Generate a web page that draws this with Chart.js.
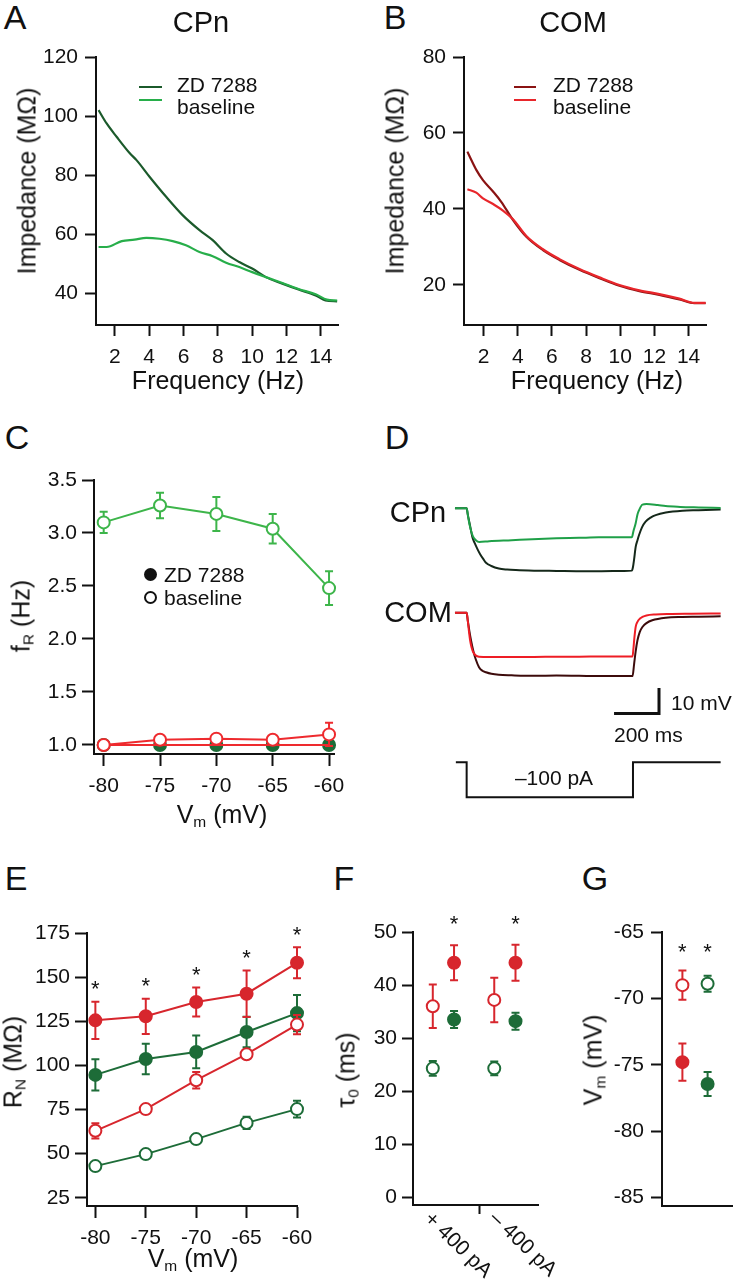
<!DOCTYPE html>
<html>
<head>
<meta charset="utf-8">
<script src="https://cdn.jsdelivr.net/npm/chart.js@4.4.1/dist/chart.umd.min.js"></script>
<style>
  html, body { margin: 0; padding: 0; background: #fff; }
  body { width: 733px; height: 1280px; position: relative; overflow: hidden;
         font-family: "Liberation Sans", Arial, sans-serif; color: #111; }
  canvas { position: absolute; }
  .t { position: absolute; white-space: nowrap; line-height: 1; }
  .t sub { font-size: 0.62em; vertical-align: -0.28em; line-height: 0; }
  .b { position: absolute; }
</style>
</head>
<body>
<script>
// ---- A: CPn impedance profile
const freqA_zd = [1.05, 1.52, 2.1, 2.87, 3.26, 4.03, 5.0, 5.96, 6.93, 7.7, 8.48, 9.25, 10.0, 10.8, 11.76, 12.7, 13.7, 14.27, 14.95];
const impA_zd = [102.0, 97.5, 93.0, 87.4, 85.1, 79.4, 72.6, 66.4, 61.4, 58.0, 53.5, 50.6, 48.4, 45.5, 43.3, 41.3, 39.3, 37.6, 37.3];
const freqA_base = [1.05, 1.52, 2.4, 3.14, 3.84, 4.6, 5.37, 6.14, 6.93, 7.7, 8.48, 9.25, 10.0, 10.8, 11.76, 12.7, 13.7, 14.35, 14.95];
const impA_base = [55.7, 55.7, 57.7, 58.2, 58.8, 58.5, 57.7, 56.3, 54.0, 52.6, 50.4, 48.9, 47.2, 45.5, 43.5, 41.5, 39.7, 37.9, 37.6];

// ---- B: COM impedance profile
const freqB_zd = [1.05, 1.28, 1.57, 1.96, 2.55, 3.03, 3.72, 4.5, 5.47, 6.44, 7.61, 8.78, 9.95, 11.12, 12.29, 13.46, 14.34, 15.0];
const impB_zd = [55.1, 52.9, 50.3, 47.6, 44.6, 41.9, 37.1, 32.7, 29.2, 26.6, 24.0, 21.8, 19.8, 18.4, 17.4, 16.2, 15.2, 15.2];
const freqB_base = [1.05, 1.57, 1.96, 2.55, 3.13, 3.72, 4.5, 5.47, 6.44, 7.61, 8.78, 9.95, 11.12, 12.29, 13.46, 14.34, 15.0];
const impB_base = [45.2, 44.3, 42.8, 41.3, 39.6, 37.3, 32.9, 29.4, 26.8, 24.2, 22.0, 20.0, 18.6, 17.6, 16.4, 15.3, 15.3];

// ---- C: resonance frequency vs Vm
const vmSteps = [-80, -75, -70, -65, -60];
const fR_cpnBase = [3.10, 3.26, 3.18, 3.04, 2.48];
const fR_cpnBaseErr = [0.10, 0.12, 0.16, 0.14, 0.16];
const fR_cpnZD = [1.0, 1.0, 1.0, 1.0, 1.0];
const fR_comBase = [1.0, 1.05, 1.06, 1.05, 1.10];
const fR_comBaseErr = [0, 0.02, 0.02, 0.02, 0.11];
const fR_comZD = [1.0, 1.0, 1.0, 1.0, 1.0];

// ---- D: example voltage responses (ms, mV relative to rest) and current step
const cpnBaseT = [-52, 0, 6, 12, 19, 28, 41, 56, 100, 200, 293, 400, 500, 588, 735, 742, 752, 760, 767, 782, 800, 850, 885, 950, 1032, 1130];
const cpnBaseV = [0, 0, -3, -6, -8.6, -11, -12.5, -13.2, -12.9, -12.5, -12.1, -11.8, -11.6, -11.4, -11.4, -9, -5.9, -2.5, -0.8, 1.4, 1.6, 1.2, 0.8, 0.5, 0.3, 0.1];
const cpnZdT = [-52, 0, 5, 12, 19, 26, 35, 47, 60, 75, 86, 110, 143, 180, 219, 300, 400, 500, 600, 700, 735, 740, 745, 752, 760, 767, 780, 796, 820, 841, 886, 960, 1032, 1130];
const cpnZdV = [0, 0, -2.5, -5.5, -8.6, -11.5, -13.5, -15.8, -18, -20, -21.3, -22.6, -23.6, -24.0, -24.2, -24.4, -24.5, -24.6, -24.6, -24.5, -24.4, -23, -20, -15.1, -12.5, -10.5, -7.5, -5.3, -3.6, -2.7, -1.7, -1.0, -0.8, -0.5];
const comBaseT = [-52, 0, 5, 10, 15, 22, 30, 40, 55, 100, 200, 300, 400, 500, 600, 700, 738, 742, 746, 752, 760, 770, 782, 800, 841, 900, 1000, 1130];
const comBaseV = [0, 0, -3, -7, -10.5, -13.5, -15.5, -16.6, -17.1, -17.2, -17.2, -17.2, -17.1, -17.1, -17.0, -17.0, -17.0, -14, -10, -5.5, -3.5, -2.3, -1.6, -1.0, -0.6, -0.4, -0.3, -0.2];
const comZdT = [-52, 0, 5, 12, 20, 30, 40, 55, 70, 86, 110, 143, 200, 300, 400, 500, 600, 700, 738, 745, 752, 760, 770, 782, 800, 826, 886, 960, 1032, 1130];
const comZdV = [0, 0, -3, -7, -11, -15, -18, -21.2, -22.6, -23.2, -23.8, -24.2, -24.4, -24.6, -24.5, -24.6, -24.7, -24.7, -24.7, -20, -15, -10.7, -7.5, -5.5, -4, -2.9, -1.9, -1.6, -1.5, -1.3];
const stepT = [-48, 0, 0, 740, 740, 1130];
const stepI = [0, 0, -100, -100, 0, 0];

// ---- E: input resistance vs Vm
const rn_comZD = [125.5, 127.8, 135.9, 140.6, 158.1];
const rn_comZDErr = [10.5, 10.0, 8.2, 13.2, 8.8];
const rn_cpnZD = [94.6, 103.6, 107.6, 118.9, 129.6];
const rn_cpnZDErr = [8.8, 8.7, 9.3, 8.7, 10.3];
const rn_comBase = [62.9, 75.2, 91.6, 106.3, 123.1];
const rn_comBaseErr = [4.3, 2.5, 4.7, 2.5, 5.5];
const rn_cpnBase = [42.9, 49.7, 58.2, 67.4, 75.2];
const rn_cpnBaseErr = [1.8, 1.8, 1.8, 3.5, 4.7];

// ---- F: membrane time constant
const stimLabels = ['+ 400 pA', '\u2013 400 pA'];
const tau_comBase = [36.0, 37.2];
const tau_comBaseErr = [4.1, 4.2];
const tau_comZD = [44.2, 44.2];
const tau_comZDErr = [3.3, 3.4];
const tau_cpnBase = [24.3, 24.3];
const tau_cpnBaseErr = [1.4, 1.3];
const tau_cpnZD = [33.5, 33.2];
const tau_cpnZDErr = [1.6, 1.6];

// ---- G: resting potential
const cellTypes = ['COM', 'CPn'];
const rest_base = [-69.0, -68.9];
const rest_baseErr = [1.1, 0.6];
const rest_zd = [-74.8, -76.45];
const rest_zdErr = [1.4, 0.9];

const RED = '#d7262d', GREEN = '#1d6c38';

Chart.defaults.font.family = '"Liberation Sans", Arial, sans-serif';
Chart.defaults.color = '#111';

// error bars drawn under each dataset's markers
const errorBars = {
  id: 'errorBars',
  beforeDatasetDraw(chart, args) {
    const ds = chart.data.datasets[args.index];
    if (!ds.errors) return;
    const y = chart.scales[args.meta.yAxisID];
    const ctx = chart.ctx;
    ctx.save();
    ctx.strokeStyle = ds.borderColor;
    ctx.lineWidth = 2;
    args.meta.data.forEach((pt, i) => {
      const e = ds.errors[i];
      if (!e) return;
      const v = ds.data[i].y;
      const top = y.getPixelForValue(v + e), bot = y.getPixelForValue(v - e);
      ctx.beginPath();
      ctx.moveTo(pt.x, top); ctx.lineTo(pt.x, bot);
      ctx.moveTo(pt.x - 4, top); ctx.lineTo(pt.x + 4, top);
      ctx.moveTo(pt.x - 4, bot); ctx.lineTo(pt.x + 4, bot);
      ctx.stroke();
    });
    ctx.restore();
  }
};

// significance asterisks above error bars
const stars = {
  id: 'stars',
  afterDatasetsDraw(chart, args, opts) {
    if (!opts || !opts.marks) return;
    const ctx = chart.ctx;
    const pos = opts.marks.map(m => {
      const ds = chart.data.datasets[m[0]];
      const p = ds.data[m[1]];
      return { x: chart.scales.x.getPixelForValue(p.x),
               y: chart.scales.y.getPixelForValue(p.y + ds.errors[m[1]]) };
    });
    if (opts.row) {
      const top = Math.min(...pos.map(p => p.y));
      pos.forEach(p => { p.y = top; });
    }
    ctx.save();
    ctx.fillStyle = '#111';
    ctx.font = '22px "Liberation Sans", Arial, sans-serif';
    ctx.textAlign = 'center';
    ctx.textBaseline = 'alphabetic';
    pos.forEach(p => ctx.fillText('*', p.x, p.y - opts.offset + 12.5));
    ctx.restore();
  }
};
Chart.register(errorBars, stars);

const YW = 80, XH = 70, PT = 20, PR = 20;

function makeChart(area, datasets, scales, plugins) {
  const c = document.createElement('canvas');
  const l = Math.round(area.l), t = Math.round(area.t), r = Math.round(area.r), b = Math.round(area.b);
  c.width = r - l + YW + PR;
  c.height = b - t + PT + XH;
  c.style.left = (l - YW) + 'px';
  c.style.top = (t - PT) + 'px';
  document.body.appendChild(c);
  return new Chart(c, {
    type: 'line',
    data: { datasets },
    options: {
      responsive: false, animation: false,
      layout: { padding: { left: 0, top: PT, right: PR, bottom: 0 } },
      plugins: Object.assign({ legend: { display: false }, tooltip: { enabled: false } }, plugins || {}),
      scales
    }
  });
}

function axis(dir, min, max, ticks, opts) {
  opts = opts || {};
  return {
    type: 'linear', min, max,
    afterBuildTicks: s => { s.ticks = ticks.map(v => ({ value: v })); },
    afterFit: s => {
      if (dir === 'x') { s.height = XH; s.paddingLeft = 0; s.paddingRight = 0; }
      else { s.width = YW; s.paddingTop = 0; s.paddingBottom = 0; }
    },
    ticks: { color: '#111', font: { size: 21 }, padding: opts.pad != null ? opts.pad : 6,
             display: opts.noLabels ? false : true,
             callback: opts.fmt || (v => String(v)) },
    grid: { display: ticks.length > 0, drawOnChartArea: false, drawTicks: true,
            tickLength: opts.tick || 11, tickWidth: 2, tickColor: '#111' },
    border: { display: true, width: 2, color: '#111' }
  };
}

function trace(xs, ys, color, extra) {
  return Object.assign({
    data: xs.map((x, i) => ({ x, y: ys[i] })),
    borderColor: color, borderWidth: 2.2, pointRadius: 0,
    cubicInterpolationMode: 'monotone', clip: false
  }, extra || {});
}

function series(xs, ys, errs, color, open, extra) {
  return Object.assign({
    data: xs.map((x, i) => ({ x, y: ys[i] })),
    errors: errs,
    borderColor: color, borderWidth: 2,
    pointRadius: 6, pointBorderWidth: 2,
    pointBorderColor: color, pointBackgroundColor: open ? '#fff' : color,
    backgroundColor: open ? '#fff' : color, clip: false
  }, extra || {});
}

// ---- A
makeChart({ l: 96, t: 57, r: 338, b: 325 }, [
  trace(freqA_base, impA_base, '#27ae4a'),
  trace(freqA_zd, impA_zd, '#1b5a2b')
], {
  x: axis('x', 0.9, 15, [2, 4, 6, 8, 10, 12, 14], { pad: 9 }),
  y: axis('y', 29.3, 120, [40, 60, 80, 100, 120], { pad: 7 })
});

// ---- B
makeChart({ l: 464, t: 57, r: 706, b: 325 }, [
  trace(freqB_base, impB_base, '#e8262b'),
  trace(freqB_zd, impB_zd, '#8a1313')
], {
  x: axis('x', 0.85, 15.02, [2, 4, 6, 8, 10, 12, 14], { pad: 9 }),
  y: axis('y', 9.47, 80, [20, 40, 60, 80], { pad: 7 })
});

// ---- C
makeChart({ l: 94, t: 480, r: 334, b: 754 }, [
  series(vmSteps, fR_cpnBase, fR_cpnBaseErr, '#3db54a', true),
  series(vmSteps, fR_comBase, fR_comBaseErr, '#ee2a2e', true),
  series(vmSteps, fR_comZD, null, '#ee2a2e', false, { pointRadius: 0 }),
  series(vmSteps, fR_cpnZD, null, GREEN, false)
], {
  x: axis('x', -80.86, -59.56, vmSteps, { pad: 8, tick: 12 }),
  y: axis('y', 0.915, 3.5, [1.0, 1.5, 2.0, 2.5, 3.0, 3.5], { pad: 5, tick: 12, fmt: v => v.toFixed(1) })
});

// ---- D (no axes; time in ms, voltage in mV, current in pA)
(function () {
  const comOffset = -40.9;          // vertical displacement of the COM traces
  const barT0 = 655.8, barV0 = -80.2; // scale bar corner
  const c = document.createElement('canvas');
  c.width = 363; c.height = 330;
  c.style.left = '370px'; c.style.top = '480px';
  document.body.appendChild(c);
  new Chart(c, {
    type: 'line',
    data: { datasets: [
      trace(cpnBaseT, cpnBaseV, '#1fa048', { borderWidth: 2 }),
      trace(cpnZdT, cpnZdV, '#15281a', { borderWidth: 2 }),
      trace(comBaseT, comBaseV.map(v => v + comOffset), '#ee1d25', { borderWidth: 2 }),
      trace(comZdT, comZdV.map(v => v + comOffset), '#3c0b0b', { borderWidth: 2 }),
      trace(stepT, stepI, '#111', { yAxisID: 'y2', cubicInterpolationMode: 'default', tension: 0, borderWidth: 2 }),
      trace([barT0, barT0 + 200, barT0 + 200], [barV0, barV0, barV0 + 10], '#111',
            { cubicInterpolationMode: 'default', tension: 0, borderWidth: 3, borderJoinStyle: 'miter' })
    ] },
    options: {
      responsive: false, animation: false,
      layout: { padding: 0 },
      plugins: { legend: { display: false }, tooltip: { enabled: false } },
      scales: {
        x: { type: 'linear', display: false, min: -430, max: 1185 },
        y: { display: false, min: -117.9, max: 11 },
        y2: { display: false, min: -136.3, max: 806.6 }
      }
    }
  });
})();

// ---- E
makeChart({ l: 87, t: 933, r: 297, b: 1206 }, [
  series(vmSteps, rn_comBase, rn_comBaseErr, RED, true),
  series(vmSteps, rn_cpnBase, rn_cpnBaseErr, GREEN, true),
  series(vmSteps, rn_comZD, rn_comZDErr, RED, false),
  series(vmSteps, rn_cpnZD, rn_cpnZDErr, GREEN, false)
], {
  x: axis('x', -80.83, -60, vmSteps, { pad: 8, tick: 12 }),
  y: axis('y', 20.3, 175, [25, 50, 75, 100, 125, 150, 175], { pad: 5, tick: 12 })
}, { stars: { marks: vmSteps.map((v, i) => [2, i]), offset: 18 } });

// ---- F
(function () {
  const stimPos = [0.95, 3.9], zdShift = 1.02;
  const zdPos = stimPos.map(p => p + zdShift);
  makeChart({ l: 413, t: 932, r: 538, b: 1205 }, [
    series(stimPos, tau_comBase, tau_comBaseErr, RED, true, { showLine: false }),
    series(stimPos, tau_cpnBase, tau_cpnBaseErr, GREEN, true, { showLine: false }),
    series(zdPos, tau_comZD, tau_comZDErr, RED, false, { showLine: false }),
    series(zdPos, tau_cpnZD, tau_cpnZDErr, GREEN, false, { showLine: false })
  ], {
    x: axis('x', 0, 6, [3.18], { tick: 9, fmt: () => '' }),
    y: axis('y', -1.45, 50, [0, 10, 20, 30, 40, 50], { pad: 5 })
  }, { stars: { marks: [[2, 0], [2, 1]], offset: 26, row: true } });
})();

// ---- G
(function () {
  const cellPos = [1.02, 2.28];
  makeChart({ l: 662, t: 932, r: 732, b: 1206 }, [
    series([cellPos[0]], [rest_base[0]], [rest_baseErr[0]], RED, true, { showLine: false }),
    series([cellPos[1]], [rest_base[1]], [rest_baseErr[1]], GREEN, true, { showLine: false }),
    series([cellPos[0]], [rest_zd[0]], [rest_zdErr[0]], RED, false, { showLine: false }),
    series([cellPos[1]], [rest_zd[1]], [rest_zdErr[1]], GREEN, false, { showLine: false })
  ], {
    x: axis('x', 0, 3.5, [], { noLabels: true }),
    y: axis('y', -85.63, -65, [-85, -80, -75, -70, -65], { pad: 7 })
  }, { stars: { marks: [[0, 0], [1, 0]], offset: 24, row: true } });
})();

// ---- text
function txt(html, x, y, size, opts) {
  opts = opts || {};
  const d = document.createElement('div');
  d.className = 't';
  d.innerHTML = html;
  d.style.left = x + 'px';
  d.style.top = y + 'px';
  d.style.fontSize = size + 'px';
  const rot = opts.rot ? ' rotate(' + opts.rot + 'deg)' : '';
  d.style.transform = (opts.left ? 'translate(0,-50%)' : 'translate(-50%,-50%)') + rot;
  document.body.appendChild(d);
}
function box(x, y, w, h, css) {
  const d = document.createElement('div');
  d.className = 'b';
  d.style.cssText += 'left:' + x + 'px;top:' + y + 'px;width:' + w + 'px;height:' + h + 'px;' + css;
  document.body.appendChild(d);
}

[['A', 15, 17], ['B', 395, 17], ['C', 17, 437], ['D', 397, 437],
 ['E', 16, 878], ['F', 344, 878], ['G', 595, 878]].forEach(p => txt(p[0], p[1], p[2], 34));

txt('CPn', 201, 22, 29);
txt('COM', 573, 22, 29);
txt('Impedance (M\u03a9)', 27, 181, 25, { rot: -90 });
txt('Impedance (M\u03a9)', 395, 181, 25, { rot: -90 });
txt('Frequency (Hz)', 218, 380, 25);
txt('Frequency (Hz)', 597, 380, 25);

// A legend
box(139, 86, 23, 2.4, 'background:#1b5a2b');
box(139, 99, 23, 2.4, 'background:#27ae4a');
txt('ZD 7288', 177, 84, 21, { left: true });
txt('baseline', 177, 106, 21, { left: true });
// B legend
box(514, 85.5, 22, 2.4, 'background:#8a1313');
box(514, 99, 22, 2.4, 'background:#e8262b');
txt('ZD 7288', 553, 84, 21, { left: true });
txt('baseline', 553, 106, 21, { left: true });

// C
txt('f<sub>R</sub> (Hz)', 21, 616, 25, { rot: -90 });
txt('V<sub>m</sub> (mV)', 222, 814, 25);
box(143.5, 568, 13, 13, 'background:#111;border-radius:50%');
box(143.5, 590.5, 9, 9, 'border:2px solid #111;border-radius:50%');
txt('ZD 7288', 164, 574, 21, { left: true });
txt('baseline', 164, 597, 21, { left: true });

// D
txt('CPn', 418, 512, 29);
txt('COM', 418, 612, 29);
txt('10 mV', 671, 702, 21, { left: true });
txt('200 ms', 614, 734, 21, { left: true });
txt('\u2013100 pA', 554, 777, 21);

// E
txt('R<sub>N</sub> (M\u03a9)', 13, 1062, 25, { rot: -90 });
txt('V<sub>m</sub> (mV)', 193, 1258, 25);

// F
txt('\u03c4<sub>0</sub> (ms)', 346, 1070, 25, { rot: -90 });
txt(stimLabels[0], 459, 1244, 21, { rot: 44 });
txt(stimLabels[1], 524, 1243, 21, { rot: 44 });

// G
txt('V<sub>m</sub> (mV)', 593, 1060, 25, { rot: -90 });
</script>
</body>
</html>
